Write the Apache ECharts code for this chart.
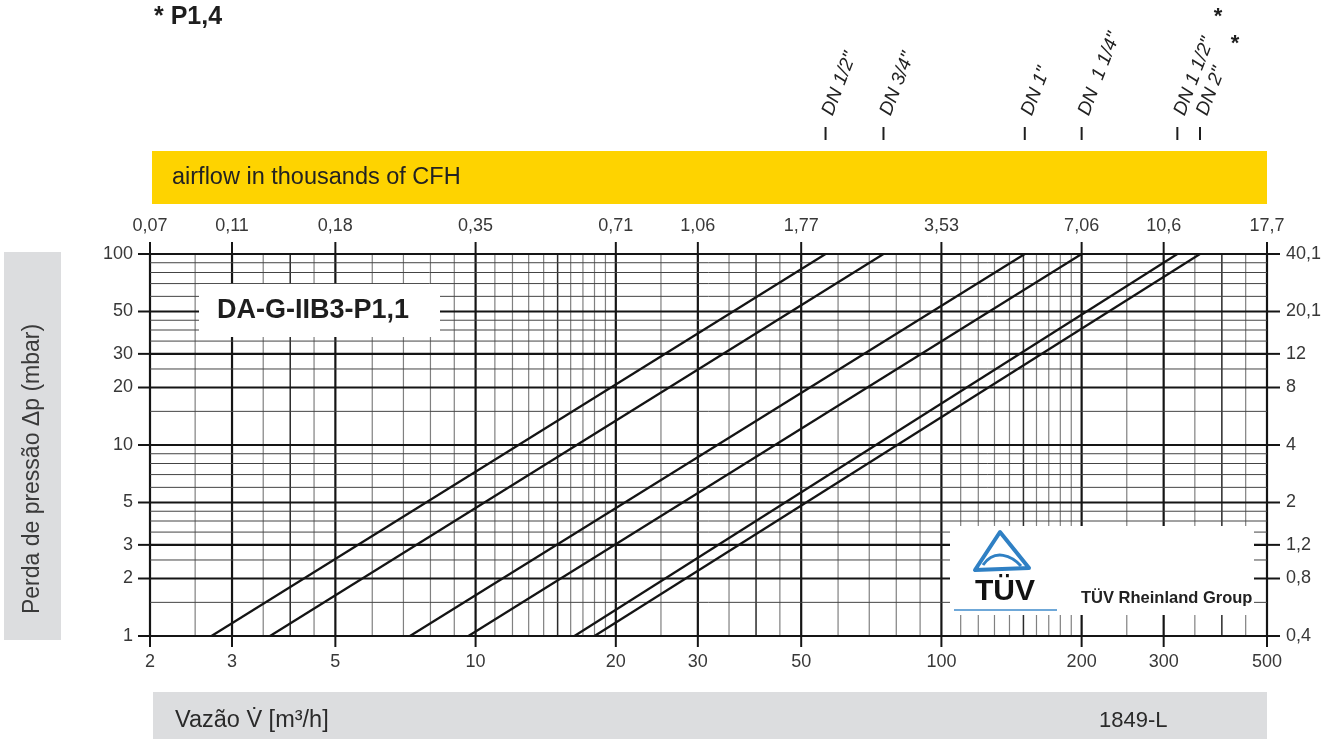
<!DOCTYPE html>
<html>
<head>
<meta charset="utf-8">
<title>DA-G-IIB3-P1,1</title>
<script src="https://cdn.jsdelivr.net/npm/echarts@6/dist/echarts.min.js"></script>
<style>
html, body { margin: 0; padding: 0; background: #fff; }
#main { width: 1330px; height: 739px; }
</style>
</head>
<body>
<div id="main"></div>
<script>
// 流量 (m³/h) 网格线
var xMajor = [2, 3, 5, 10, 20, 30, 50, 100, 200, 300, 500];
var xMedium = [4, 15, 40, 150, 400];
var xMinor = [2.5, 3.5, 4.5, 6, 7, 8, 9, 11, 12, 13, 14, 16, 17, 18, 19, 25, 35, 45, 60, 70, 80, 90,
	110, 120, 130, 140, 160, 170, 180, 190, 250, 350, 450];
// 上方刻度 (thousands of CFH)
var cfhLabels = ['0,07', '0,11', '0,18', '0,35', '0,71', '1,06', '1,77', '3,53', '7,06', '10,6', '17,7'];
// 压损 (mbar) 网格线
var yMajor = [1, 2, 3, 5, 10, 20, 30, 50, 100];
var yMinor = [1.5, 2.5, 3.5, 4, 4.5, 6, 7, 8, 9, 15, 25, 35, 40, 45, 60, 70, 80, 90];
// 右侧刻度
var inwcLabels = ['0,4', '0,8', '1,2', '2', '4', '8', '12', '20,1', '40,1'];
// 各口径曲线: 1 mbar 与 100 mbar 处的流量
var dnNames = ['DN 1/2"', 'DN 3/4"', 'DN 1"', 'DN  1 1/4"', 'DN 1 1/2"', 'DN 2"'];
var flowAt1 = [2.71, 3.62, 7.23, 9.65, 16.3, 18.0];
var flowAt100 = [56.4, 75.1, 151, 200, 321, 359];
var dpEnds = [1, 100];

var FONT = '"Liberation Sans", Arial, sans-serif';
var xMin = xMajor[0], xMax = xMajor[xMajor.length - 1];
var yMin = yMajor[0], yMax = yMajor[yMajor.length - 1];

/**
 * 拼接网格数据 [x, y, kind, idx]
 */
function gridData(isX) {
	var out = [];
	var major = isX ? xMajor : yMajor;
	var medium = isX ? xMedium : [];
	var minor = isX ? xMinor : yMinor;
	minor.forEach(function(v) { out.push(isX ? [v, yMin, 0, -1] : [xMin, v, 0, -1]); });
	medium.forEach(function(v) { out.push(isX ? [v, yMin, 1, -1] : [xMin, v, 1, -1]); });
	major.forEach(function(v, i) { out.push(isX ? [v, yMin, 2, i] : [xMin, v, 2, i]); });
	return out;
}

var vStyle = [{ c: '#808080', w: 1.2 }, { c: '#2a2a2a', w: 1.5 }, { c: '#151515', w: 2.2 }];
var hStyle = [{ c: '#444', w: 1 }, { c: '#2a2a2a', w: 1.5 }, { c: '#151515', w: 2.2 }];
var tickStyle = { stroke: '#151515', lineWidth: 2 };
var labelFont = '18px ' + FONT;

function txt(x, y, s, align) {
	return {
		type: 'text', x: x, y: y,
		style: { text: s, font: labelFont, fill: '#383838', align: align, verticalAlign: 'middle' }
	};
}

/**
 * 竖向网格 + 上下刻度
 */
function renderXGrid(params, api) {
	var v = api.value(0), kind = api.value(2), idx = api.value(3);
	var b = api.coord([v, yMin]), t = api.coord([v, yMax]);
	var st = vStyle[kind];
	var kids = [{ type: 'line', shape: { x1: b[0], y1: b[1], x2: t[0], y2: t[1] }, style: { stroke: st.c, lineWidth: st.w } }];
	if (kind === 2) {
		kids.push({ type: 'line', shape: { x1: b[0], y1: b[1], x2: b[0], y2: b[1] + 11 }, style: tickStyle });
		kids.push({ type: 'line', shape: { x1: t[0], y1: t[1], x2: t[0], y2: t[1] - 12 }, style: tickStyle });
		kids.push(txt(b[0], b[1] + 26, String(xMajor[idx]), 'center'));
		kids.push(txt(t[0], t[1] - 28, cfhLabels[idx], 'center'));
	}
	return { type: 'group', children: kids };
}

/**
 * 横向网格 + 左右刻度
 */
function renderYGrid(params, api) {
	var v = api.value(1), kind = api.value(2), idx = api.value(3);
	var l = api.coord([xMin, v]), r = api.coord([xMax, v]);
	var st = hStyle[kind];
	var kids = [{ type: 'line', shape: { x1: l[0], y1: l[1], x2: r[0], y2: r[1] }, style: { stroke: st.c, lineWidth: st.w } }];
	if (kind === 2) {
		kids.push({ type: 'line', shape: { x1: l[0], y1: l[1], x2: l[0] - 12, y2: l[1] }, style: tickStyle });
		kids.push({ type: 'line', shape: { x1: r[0], y1: r[1], x2: r[0] + 13, y2: r[1] }, style: tickStyle });
		kids.push(txt(l[0] - 17, l[1], String(yMajor[idx]), 'right'));
		kids.push(txt(r[0] + 19, r[1], inwcLabels[idx], 'left'));
	}
	return { type: 'group', children: kids };
}

var myChart = echarts.init(document.getElementById('main'));

var series = [{
	type: 'custom', name: 'xgrid', coordinateSystem: 'cartesian2d',
	dimensions: ['x', 'y', 'kind', 'idx'], encode: { x: 0, y: 1 },
	data: gridData(true), renderItem: renderXGrid, clip: false, z: 1, silent: true
}, {
	type: 'custom', name: 'ygrid', coordinateSystem: 'cartesian2d',
	dimensions: ['x', 'y', 'kind', 'idx'], encode: { x: 0, y: 1 },
	data: gridData(false), renderItem: renderYGrid, clip: false, z: 1, silent: true
}];

dnNames.forEach(function(name, i) {
	series.push({
		type: 'line', name: name,
		data: [[flowAt1[i], dpEnds[0]], [flowAt100[i], dpEnds[1]]],
		symbol: 'none', lineStyle: { color: '#141414', width: 2.2 }, z: 3, silent: true
	});
});

var hidden = { axisLine: { show: false }, axisTick: { show: false }, axisLabel: { show: false }, splitLine: { show: false } };

myChart.setOption({
	animation: false,
	backgroundColor: '#fff',
	grid: { left: 150, right: 63, top: 254, bottom: 103 },
	xAxis: Object.assign({ type: 'log', logBase: 10, min: xMin, max: xMax }, hidden),
	yAxis: Object.assign({ type: 'log', logBase: 10, min: yMin, max: yMax }, hidden),
	series: series
});

// 静态图形: 标题、色带、框
var graphics = [
	{ type: 'text', x: 154, y: 17, z: 10, style: { text: '* P1,4', font: 'bold 25px ' + FONT, fill: '#1e1e1e', verticalAlign: 'middle' } },
	{ type: 'rect', shape: { x: 152, y: 151, width: 1115, height: 53 }, z: 10, style: { fill: '#FED300' } },
	{ type: 'text', x: 172, y: 178, z: 11, style: { text: 'airflow in thousands of CFH', font: '23.5px ' + FONT, fill: '#222', verticalAlign: 'middle' } },
	{ type: 'rect', shape: { x: 4, y: 252, width: 57, height: 388 }, z: 10, style: { fill: '#DCDDDF' } },
	{ type: 'text', x: 33, y: 469, rotation: Math.PI / 2, z: 11, style: { text: 'Perda de pressão Δp (mbar)', font: '23px ' + FONT, fill: '#3a3a3a', align: 'center', verticalAlign: 'middle' } },
	{ type: 'rect', shape: { x: 153, y: 692, width: 1114, height: 47 }, z: 10, style: { fill: '#DCDDDF' } },
	{ type: 'text', x: 175, y: 721, z: 11, style: { text: 'Vazão V\u0307 [m³/h]', font: '23.5px ' + FONT, fill: '#2a2a2a', verticalAlign: 'middle' } },
	{ type: 'text', x: 1099, y: 721, z: 11, style: { text: '1849-L', font: '22px ' + FONT, fill: '#2a2a2a', verticalAlign: 'middle' } },
	{ type: 'rect', shape: { x: 199, y: 284, width: 241, height: 53 }, z: 10, style: { fill: '#fff' } },
	{ type: 'text', x: 313, y: 311, z: 11, style: { text: 'DA-G-IIB3-P1,1', font: 'bold 27px ' + FONT, fill: '#1e1e1e', align: 'center', verticalAlign: 'middle' } },
	// TÜV 标志
	{ type: 'rect', shape: { x: 950, y: 526, width: 304, height: 89 }, z: 10, style: { fill: '#fff' } },
	{ type: 'polygon', shape: { points: [[1000, 532], [975, 570], [1029, 568]] }, z: 11, style: { fill: 'none', stroke: '#2F80C4', lineWidth: 4, lineJoin: 'round' } },
	{ type: 'bezierCurve', shape: { x1: 983, y1: 565, cpx1: 995, cpy1: 548, cpx2: 1012, cpy2: 556, x2: 1021, y2: 566 }, z: 11, style: { fill: 'none', stroke: '#2F80C4', lineWidth: 3 } },
	{ type: 'text', x: 1005, y: 592, z: 11, style: { text: 'TÜV', font: 'bold 30px ' + FONT, fill: '#111', align: 'center', verticalAlign: 'middle' } },
	{ type: 'line', shape: { x1: 954, y1: 610, x2: 1057, y2: 610 }, z: 11, style: { stroke: '#6FA8D8', lineWidth: 2 } },
	{ type: 'text', x: 1081, y: 598, z: 11, style: { text: 'TÜV Rheinland Group', font: 'bold 16.5px ' + FONT, fill: '#222', verticalAlign: 'middle' } },
	{ type: 'text', x: 1218, y: 17, z: 11, style: { text: '*', font: 'bold 22px ' + FONT, fill: '#1e1e1e', align: 'center', verticalAlign: 'middle' } },
	{ type: 'text', x: 1235, y: 44, z: 11, style: { text: '*', font: 'bold 22px ' + FONT, fill: '#1e1e1e', align: 'center', verticalAlign: 'middle' } }
];

// 口径标注: 位置取自 100 mbar 处的曲线端点
var rot = 69 * Math.PI / 180;
dnNames.forEach(function(name, i) {
	var p = myChart.convertToPixel({ xAxisIndex: 0, yAxisIndex: 0 }, [flowAt100[i], dpEnds[1]]);
	graphics.push({ type: 'line', shape: { x1: p[0], y1: 127, x2: p[0], y2: 140 }, z: 11, style: { stroke: '#1e1e1e', lineWidth: 2 } });
	graphics.push({
		type: 'text', x: p[0] + 11, y: 118, rotation: rot, z: 11,
		style: { text: name, font: 'italic 19px ' + FONT, fill: '#222', align: 'left', verticalAlign: 'bottom' }
	});
});

myChart.setOption({ graphic: graphics });
</script>
</body>
</html>
